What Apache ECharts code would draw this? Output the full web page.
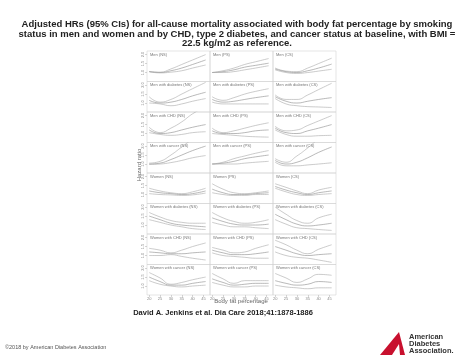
<!DOCTYPE html>
<html><head><meta charset="utf-8">
<script src="https://cdn.jsdelivr.net/npm/echarts@6/dist/echarts.min.js"></script>
<style>html,body{margin:0;padding:0;background:#fff}#c{width:474px;height:355px}</style>
</head><body><div id="c"></div>
<script>
// ---- data ----
const bodyFat = [20, 25, 30, 35, 40, 46];
const xTicks = [20, 25, 30, 35, 40, 45];
const yTicks = [1.0, 1.5, 2.0];
const rowNames = ['Men', 'Men with diabetes', 'Men with CHD', 'Men with cancer',
  'Women', 'Women with diabetes', 'Women with CHD', 'Women with cancer'];
const colNames = ['NS', 'PS', 'CS'];
// each panel: [estimate, lower CI, upper CI]
const men_NS = [[1.05,1.0,1.1,1.25,1.45,1.7],[1.05,0.98,1.02,1.1,1.25,1.42],[1.06,1.02,1.2,1.45,1.7,2.0]];
const men_PS = [[1.0,1.05,1.15,1.3,1.4,1.52],[1.0,1.0,1.05,1.15,1.25,1.38],[1.0,1.1,1.25,1.45,1.6,1.78]];
const men_CS = [[1.2,1.05,1.0,1.1,1.25,1.47],[1.15,1.0,0.95,1.0,1.08,1.18],[1.25,1.08,1.05,1.25,1.5,1.8]];
const menDiab_NS = [[1.15,1.0,1.05,1.2,1.4,1.6],[1.0,0.95,0.85,0.95,1.1,1.25],[1.35,1.05,1.2,1.5,1.8,2.15]];
const menDiab_PS = [[1.2,1.05,1.1,1.2,1.3,1.4],[1.05,0.95,0.95,0.95,0.95,0.95],[1.35,1.15,1.3,1.5,1.65,1.8]];
const menDiab_CS = [[1.35,1.1,1.0,1.1,1.2,1.3],[1.25,0.95,0.85,0.8,0.78,0.75],[1.45,1.2,1.2,1.45,1.75,2.1]];
const menCHD_NS = [[1.2,1.0,1.05,1.2,1.35,1.5],[1.05,0.95,0.9,0.95,1.05,1.1],[1.35,1.05,1.3,1.65,2.1,2.5]];
const menCHD_PS = [[1.15,1.0,1.0,1.05,1.15,1.2],[1.0,0.95,0.9,0.85,0.82,0.8],[1.3,1.05,1.15,1.3,1.45,1.6]];
const menCHD_CS = [[1.3,1.05,1.0,1.15,1.3,1.5],[1.2,0.95,0.85,0.85,0.88,0.9],[1.4,1.15,1.2,1.45,1.7,2.0]];
const menCan_NS = [[1.0,1.05,1.25,1.5,1.75,2.0],[0.98,1.0,1.08,1.2,1.35,1.47],[1.05,1.15,1.5,1.95,2.4,2.9]];
const menCan_PS = [[1.0,1.05,1.15,1.3,1.4,1.5],[1.0,1.0,1.0,1.05,1.1,1.15],[1.0,1.1,1.3,1.45,1.6,1.75]];
const menCan_CS = [[1.2,1.0,1.1,1.35,1.65,1.95],[1.1,0.9,0.9,0.95,1.0,1.07],[1.3,1.1,1.45,1.9,2.4,2.9]];
const women_NS = [[1.2,1.1,1.05,1.0,1.05,1.2],[1.05,1.0,0.98,0.95,0.98,1.08],[1.35,1.2,1.1,1.05,1.15,1.35]];
const women_PS = [[1.3,1.1,1.0,1.0,1.05,1.1],[1.1,1.0,0.95,0.95,1.0,1.0],[1.6,1.3,1.1,1.05,1.1,1.2]];
const women_CS = [[1.45,1.25,1.1,1.0,1.1,1.2],[1.35,1.15,1.0,0.95,1.0,1.05],[1.6,1.4,1.2,1.05,1.25,1.4]];
const womenDiab_NS = [[1.5,1.3,1.1,1.0,0.95,0.9],[1.3,1.15,1.0,0.9,0.8,0.75],[1.7,1.45,1.25,1.15,1.1,1.1]];
const womenDiab_PS = [[1.4,1.2,1.05,1.0,1.0,1.05],[1.15,1.0,0.9,0.9,0.85,0.8],[1.7,1.4,1.2,1.1,1.15,1.3]];
const womenDiab_CS = [[1.6,1.3,1.05,0.95,1.0,1.1],[1.3,1.05,0.85,0.8,0.75,0.7],[2.0,1.6,1.25,1.1,1.4,1.6]];
const womenCHD_NS = [[1.2,1.15,1.1,1.1,1.15,1.2],[1.0,1.0,1.05,0.95,0.85,0.75],[1.4,1.3,1.15,1.3,1.5,1.7]];
const womenCHD_PS = [[1.3,1.15,1.05,1.05,1.1,1.2],[1.15,1.0,0.95,0.9,0.85,0.85],[1.45,1.3,1.15,1.2,1.4,1.6]];
const womenCHD_CS = [[1.5,1.3,1.1,1.0,1.05,1.1],[1.2,1.0,0.9,0.85,0.75,0.62],[1.85,1.6,1.3,1.1,1.35,1.6]];
const womenCan_NS = [[1.5,1.25,1.05,1.05,1.15,1.25],[1.3,1.1,1.0,0.95,1.0,1.05],[1.75,1.45,1.1,1.2,1.35,1.5]];
const womenCan_PS = [[1.4,1.2,1.05,1.1,1.15,1.15],[1.2,1.05,0.95,0.95,1.0,1.0],[1.7,1.4,1.15,1.3,1.3,1.3]];
const womenCan_CS = [[1.3,1.15,1.05,1.1,1.25,1.2],[1.05,0.95,0.9,0.85,0.9,0.9],[1.7,1.45,1.2,1.4,1.65,1.6]];

const panels = [
  men_NS, men_PS, men_CS, menDiab_NS, menDiab_PS, menDiab_CS,
  menCHD_NS, menCHD_PS, menCHD_CS, menCan_NS, menCan_PS, menCan_CS,
  women_NS, women_PS, women_CS, womenDiab_NS, womenDiab_PS, womenDiab_CS,
  womenCHD_NS, womenCHD_PS, womenCHD_CS, womenCan_NS, womenCan_PS, womenCan_CS
];

// ---- layout ----
const colLeft = [147, 210, 273], colW = 63;
const rowTop0 = 51, rowH = 30.5;
const FONT = 'Liberation Sans, Arial, sans-serif';

const grid = [], xAxis = [], yAxis = [], series = [], graphic = [];
panels.forEach((p, i) => {
  const r = Math.floor(i / 3), c = i % 3;
  const left = colLeft[c], top = rowTop0 + r * rowH;
  grid.push({left, top, width: colW, height: rowH, show: true,
    borderColor: '#d4d4d4', borderWidth: 0.6, containLabel: false});
  const bottomRow = r === 7, firstCol = c === 0;
  xAxis.push({type: 'value', gridIndex: i, min: 19, max: 48,
    axisLine: {show: false}, splitLine: {show: false},
    axisTick: {show: bottomRow, customValues: xTicks, length: 2, lineStyle: {color: '#aaa', width: 0.5}},
    axisLabel: {show: bottomRow, customValues: xTicks, fontSize: 4, color: '#888', margin: 2, fontFamily: FONT}});
  yAxis.push({type: 'value', gridIndex: i, min: 0.5, max: 2.2,
    axisLine: {show: false}, splitLine: {show: false},
    axisTick: {show: firstCol, customValues: yTicks, length: 2, lineStyle: {color: '#aaa', width: 0.5}},
    axisLabel: {show: firstCol, customValues: yTicks, fontSize: 4, color: '#888', margin: 2, rotate: 90,
      fontFamily: FONT, formatter: v => v.toFixed(1)}});
  p.forEach((arr, j) => {
    series.push({type: 'line', xAxisIndex: i, yAxisIndex: i, smooth: true, showSymbol: false,
      silent: true, clip: true,
      lineStyle: {color: j === 0 ? '#8a8a8a' : '#a8a8a8', width: 0.6},
      data: bodyFat.map((x, k) => [x, arr[k]])});
  });
  graphic.push({type: 'text', left: left + 3, top: top + 1.5, silent: true,
    style: {text: rowNames[r] + ' (' + colNames[c] + ')', fontSize: 4, fill: '#777', fontFamily: FONT}});
});

graphic.push(
  {type: 'text', x: 237, y: 34, silent: true, style: {
    text: 'Adjusted HRs (95% CIs) for all-cause mortality associated with body fat percentage by smoking\nstatus in men and women and by CHD, type 2 diabetes, and cancer status at baseline, with BMI =\n22.5 kg/m2 as reference.',
    fontSize: 9.5, fontWeight: 'bold', lineHeight: 9.3, fill: '#222', align: 'center', verticalAlign: 'middle', fontFamily: FONT}},
  {type: 'text', x: 139, y: 165, rotation: Math.PI / 2, silent: true, style: {
    text: 'Hazard ratio', fontSize: 6, fill: '#666', align: 'center', verticalAlign: 'middle', fontFamily: FONT}},
  {type: 'text', x: 241, y: 301, silent: true, style: {
    text: 'Body fat percentage', fontSize: 6, fill: '#666', align: 'center', verticalAlign: 'middle', fontFamily: FONT}},
  {type: 'text', x: 223, y: 313, silent: true, style: {
    text: 'David A. Jenkins et al. Dia Care 2018;41:1878-1886', fontSize: 7.5, fontWeight: 'bold', fill: '#222',
    align: 'center', verticalAlign: 'middle', fontFamily: FONT}},
  {type: 'text', x: 5, y: 347, silent: true, style: {
    text: '\u00a92018 by American Diabetes Association', fontSize: 5.5, fill: '#555',
    align: 'left', verticalAlign: 'middle', fontFamily: FONT}},
  {type: 'polygon', silent: true, shape: {points: [[380, 355], [399, 332], [405, 355]]}, style: {fill: '#c8102e'}},
  {type: 'polygon', silent: true, shape: {points: [[392, 355], [399, 344], [400, 355]]}, style: {fill: '#fff'}},
  {type: 'text', x: 409, y: 344, silent: true, style: {
    text: 'American\nDiabetes\nAssociation.', fontSize: 7.5, fontWeight: 'bold', lineHeight: 7.3, fill: '#333',
    align: 'left', verticalAlign: 'middle', fontFamily: FONT}}
);

const chart = echarts.init(document.getElementById('c'), null, {renderer: 'canvas'});
chart.setOption({animation: false, backgroundColor: '#fff', grid, xAxis, yAxis, series, graphic});
</script></body></html>
